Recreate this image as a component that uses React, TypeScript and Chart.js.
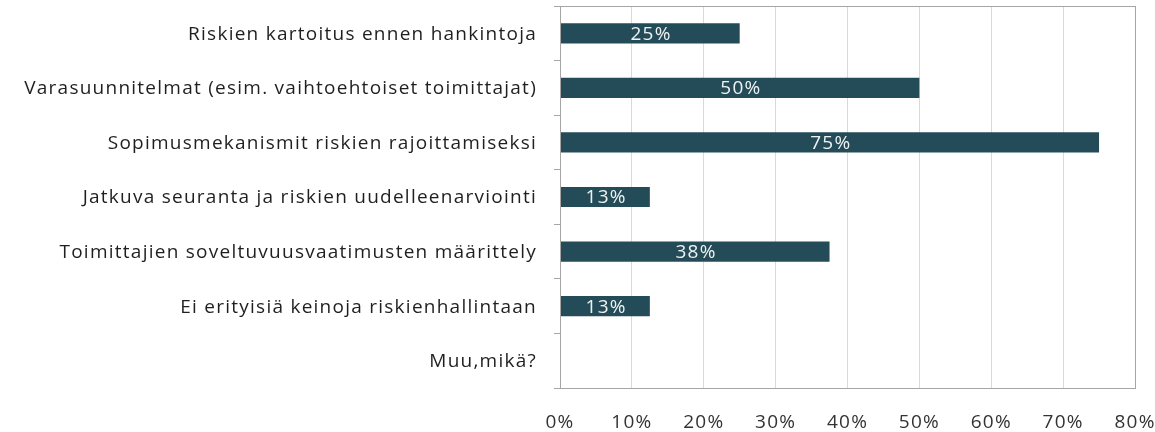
import React, { useEffect, useRef } from "react";
import { Chart, registerables } from "chart.js";

Chart.register(...registerables);

const categories: string[] = [
  "Riskien kartoitus ennen hankintoja",
  "Varasuunnitelmat (esim. vaihtoehtoiset toimittajat)",
  "Sopimusmekanismit riskien rajoittamiseksi",
  "Jatkuva seuranta ja riskien uudelleenarviointi",
  "Toimittajien soveltuvuusvaatimusten määrittely",
  "Ei erityisiä keinoja riskienhallintaan",
  "Muu,mikä?",
];

const values: number[] = [25, 50, 75, 12.5, 37.5, 12.5, 0];

const xTicks: number[] = [0, 10, 20, 30, 40, 50, 60, 70, 80];

const FONT = "'Open Sans', 'DejaVu Sans', sans-serif";
const FONT_SIZE = 19;
const SPACING = "1.25px";
const BAR_COLOR = "#244c58";
const FRAME = "#a6a6a6";

const spacing = {
  id: "spacing",
  beforeDraw(chart: any) {
    (chart.ctx as any).letterSpacing = SPACING;
  },
};

const valueLabels = {
  id: "valueLabels",
  afterDatasetsDraw(chart: any) {
    const ctx = chart.ctx;
    const meta = chart.getDatasetMeta(0);
    ctx.save();
    ctx.letterSpacing = SPACING;
    ctx.fillStyle = "#eef2f3";
    ctx.font = `${FONT_SIZE}px ${FONT}`;
    ctx.textAlign = "center";
    ctx.textBaseline = "middle";
    meta.data.forEach((el: any, i: number) => {
      const v = values[i];
      if (!v) return;
      const cx = (el.x + el.base) / 2;
      ctx.fillText(`${Math.round(v)}%`, cx + 1, el.y + 1);
    });
    ctx.restore();
  },
};

const frame = {
  id: "frame",
  afterDraw(chart: any) {
    const { ctx, chartArea } = chart;
    ctx.save();
    ctx.strokeStyle = FRAME;
    ctx.lineWidth = 1;
    const l = Math.round(chartArea.left) + 0.5;
    const t = Math.round(chartArea.top) + 0.5;
    const r = Math.round(chartArea.right) + 0.5;
    const b = Math.round(chartArea.bottom) + 0.5;
    ctx.strokeRect(l, t, r - l, b - t);
    ctx.restore();
  },
};

export default function App() {
  const ref = useRef<HTMLCanvasElement | null>(null);
  useEffect(() => {
    document.body.style.margin = "0";
    if (!ref.current) return;
    const chart = new Chart(ref.current, {
      type: "bar",
      data: {
        labels: categories,
        datasets: [
          {
            data: values,
            backgroundColor: BAR_COLOR,
            borderWidth: 0,
            barPercentage: 0.37,
            categoryPercentage: 1,
          },
        ],
      },
      options: {
        indexAxis: "y",
        animation: false,
        responsive: true,
        maintainAspectRatio: false,
        layout: { padding: { top: 6, right: 20, left: 0, bottom: 0 } },
        plugins: {
          legend: { display: false },
          tooltip: { enabled: false },
        },
        scales: {
          x: {
            min: 0,
            max: 80,
            afterBuildTicks: (scale: any) => {
              scale.ticks = xTicks.map((v) => ({ value: v }));
            },
            afterFit: (scale: any) => {
              scale.height = 44;
              scale.paddingLeft = 0;
              scale.paddingRight = 0;
            },
            grid: {
              color: "#d9d9d9",
              drawTicks: false,
              lineWidth: 1,
            },
            border: { display: false },
            ticks: {
              padding: 23,
              color: "#333333",
              font: { family: FONT, size: FONT_SIZE },
              callback: (v: any) => `${v}%`,
            },
          },
          y: {
            afterFit: (scale: any) => {
              scale.width = 560;
              scale.paddingTop = 0;
              scale.paddingBottom = 0;
            },
            grid: {
              display: true,
              drawOnChartArea: false,
              drawTicks: true,
              tickLength: 6,
              offset: true,
              color: FRAME,
            },
            border: { display: true, color: FRAME },
            ticks: {
              padding: 17,
              labelOffset: 1,
              color: "#1f1f1f",
              font: { family: FONT, size: FONT_SIZE },
            },
          },
        },
      },
      plugins: [spacing, valueLabels, frame],
    });
    return () => chart.destroy();
  }, []);
  return (
    <div style={{ position: "relative", width: 1155, height: 432 }}>
      <canvas ref={ref} />
    </div>
  );
}
